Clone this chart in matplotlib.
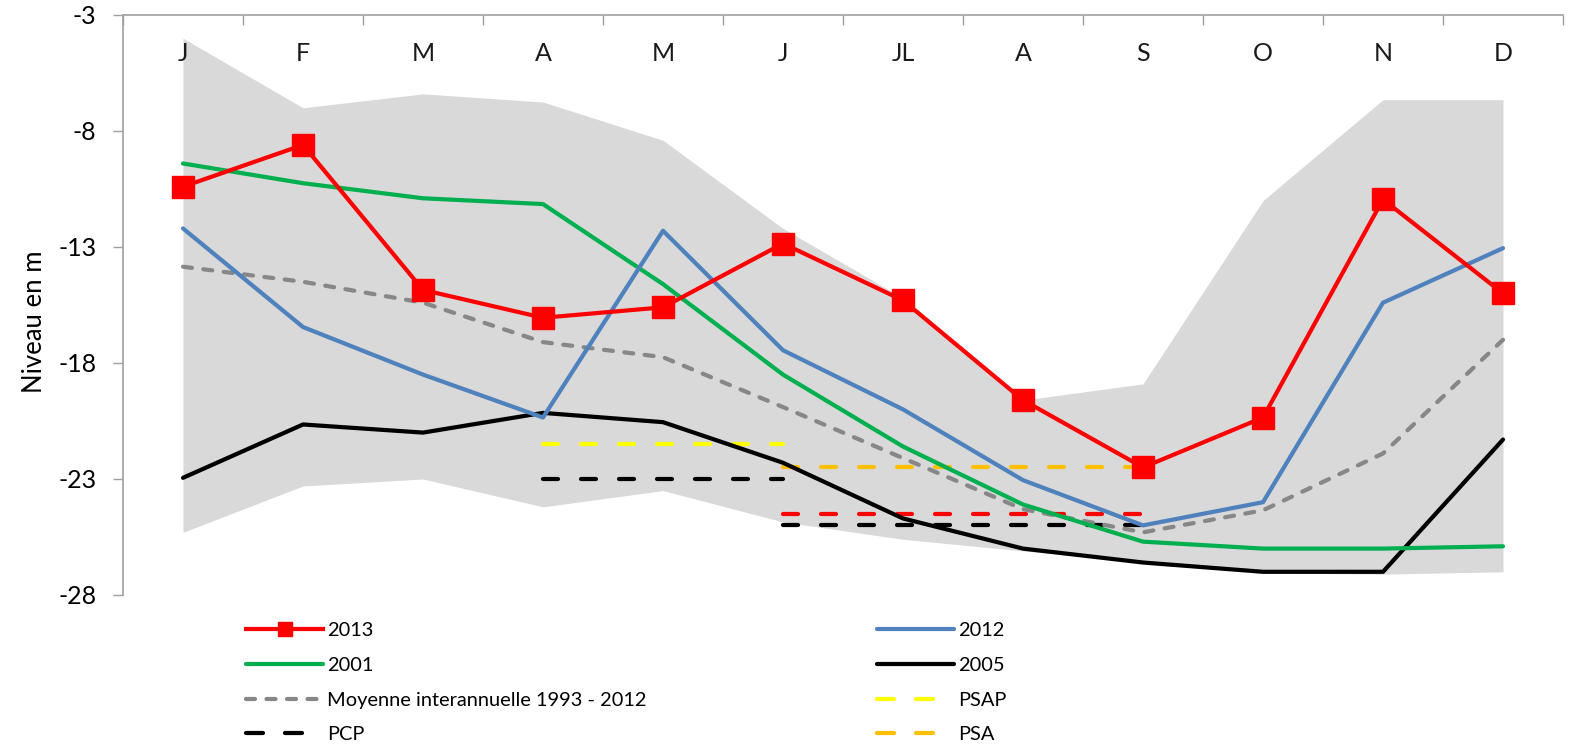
import numpy as np
import matplotlib
matplotlib.use('Agg')
import matplotlib.pyplot as plt
from matplotlib.lines import Line2D

nan = np.nan
months = ['J', 'F', 'M', 'A', 'M', 'J', 'JL', 'A', 'S', 'O', 'N', 'D']
env_max = [-4.0, -7.0, -6.4, -6.75, -8.4, -12.2, -15.2, -19.6, -18.9, -11.0, -6.65, -6.65]
env_min = [-25.3, -23.3, -23.0, -24.2, -23.5, -24.85, -25.6, -26.1, -26.6, -27.05, -27.1, -27.0]
y2013 = [-10.4, -8.6, -14.85, -16.05, -15.6, -12.85, -15.3, -19.6, -22.5, -20.35, -10.95, -15.0]
y2012 = [-12.2, -16.45, -18.5, -20.35, -12.3, -17.45, -20.0, -23.05, -25.0, -24.0, -15.4, -13.05]
y2001 = [-9.4, -10.25, -10.9, -11.15, -14.6, -18.5, -21.6, -24.1, -25.7, -26.0, -26.0, -25.9]
y2005 = [-22.95, -20.65, -21.0, -20.15, -20.55, -22.3, -24.7, -26.0, -26.6, -27.0, -27.0, -21.3]
moyenne = [-13.85, -14.5, -15.4, -17.1, -17.75, -19.9, -22.1, -24.3, -25.3, -24.35, -21.9, -17.0]
psap = [nan, nan, nan, -21.5, -21.5, -21.5, nan, nan, nan, nan, nan, nan]
pcp_1 = [nan, nan, nan, -23.0, -23.0, -23.0, nan, nan, nan, nan, nan, nan]
pcp_2 = [nan, nan, nan, nan, nan, -25.0, -25.0, -25.0, -25.0, nan, nan, nan]
psa = [nan, nan, nan, nan, nan, -22.5, -22.5, -22.5, -22.5, nan, nan, nan]
seuil_rouge = [nan, nan, nan, nan, nan, -24.5, -24.5, -24.5, -24.5, nan, nan, nan]
yticks = [-28, -23, -18, -13, -8, -3]

FONT = 'Lato'
plt.rcParams['font.family'] = [FONT, 'DejaVu Sans']

W, H = 1570, 752
fig = plt.figure(figsize=(W / 100, H / 100), dpi=100)
L, R, T, B = 123, 1563, 15, 595
ax = fig.add_axes([L / W, 1 - B / H, (R - L) / W, (B - T) / H])

x = np.arange(len(months))
ax.fill_between(x, env_min, env_max, color='#D9D9D9', lw=0, zorder=1)

lw_px = 4.2
lw = lw_px * 0.72
dash_long = (15.0 / lw_px, 23.0 / lw_px)
dash_leg = (17.0 / lw_px, 22.0 / lw_px)
dash_mean = (9.0 / lw_px, 11.5 / lw_px)

def dline(y, color, dashes=dash_long, z=2):
    l, = ax.plot(x, y, color=color, lw=lw, dashes=dashes,
                 dash_capstyle='round', zorder=z)
    return l

dline(psap, '#FFFF00')
dline(pcp_1, '#000000')
dline(pcp_2, '#000000')
dline(psa, '#FFC000')
dline(seuil_rouge, '#FF0000', z=2.1)

h_moy, = ax.plot(x, moyenne, color='#878787', lw=lw, dashes=dash_mean,
                 dash_capstyle='round', zorder=3)
h05, = ax.plot(x, y2005, color='#000000', lw=lw, zorder=4, solid_capstyle='round')
h01, = ax.plot(x, y2001, color='#00B050', lw=lw, zorder=4, solid_capstyle='round')
h12, = ax.plot(x, y2012, color='#4F81BD', lw=lw, zorder=5, solid_capstyle='round')
h13, = ax.plot(x, y2013, color='#FF0000', lw=lw, marker='s', markersize=16.5,
               zorder=6)

ax.set_xlim(-0.5, len(months) - 0.5)
ax.set_ylim(-28, -3)
ax.set_yticks(yticks)
ax.set_yticklabels([str(v) for v in yticks], fontsize=18)
ax.tick_params(axis='y', direction='out', length=7.2, width=1, color='#A0A0A0',
               pad=12)

ax.xaxis.tick_top()
ax.set_xticks(np.arange(-0.5, len(months), 1.0))
ax.set_xticklabels([])
ax.tick_params(axis='x', direction='in', length=7.2, width=1, color='#A0A0A0')
for i, m in enumerate(months):
    ax.text(i, -4.65, m, ha='center', va='center', fontsize=18, color='#1a1a1a')

for s in ['right', 'bottom']:
    ax.spines[s].set_visible(False)
for s in ['left', 'top']:
    ax.spines[s].set_color('#A0A0A0')
    ax.spines[s].set_linewidth(1.2)

fig.text(35 / W, 1 - 322 / H, 'Niveau en m', rotation=90, ha='center',
         va='center', fontsize=18.5)

# legend
def leg_dash(color, dashes):
    return Line2D([], [], color=color, lw=lw, dashes=dashes, dash_capstyle='round')

h13_leg = Line2D([], [], color='#FF0000', lw=lw, marker='s', markersize=10)
h_moy_leg = leg_dash('#878787', dash_mean)
h_pcp_leg = leg_dash('#000000', dash_leg)
h_psap_leg = leg_dash('#FFFF00', dash_leg)
h_psa_leg = leg_dash('#FFC000', dash_leg)

leg_fs = 14.4
common = dict(frameon=False, fontsize=leg_fs, handlelength=77 / 20.0,
              handletextpad=0.22, labelspacing=0.89, borderpad=0,
              borderaxespad=0, loc='upper left', numpoints=1)
leg1 = fig.legend([h13_leg, h01, h_moy_leg, h_pcp_leg],
                  ['2013', '2001', 'Moyenne interannuelle 1993 - 2012', 'PCP'],
                  bbox_to_anchor=(246 / W, 1 - 622 / H), **common)
leg2 = fig.legend([h12, h05, h_psap_leg, h_psa_leg],
                  ['2012', '2005', 'PSAP', 'PSA'],
                  bbox_to_anchor=(877 / W, 1 - 622 / H), **common)

fig.savefig('out.png', dpi=100)
